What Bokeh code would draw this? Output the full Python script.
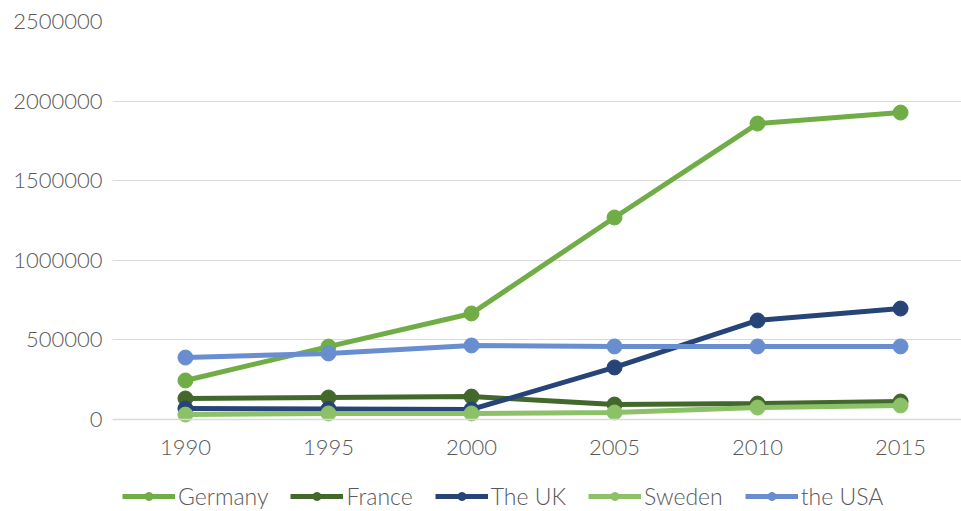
from bokeh.plotting import figure
from bokeh.models import Range1d, FixedTicker, Legend, LegendItem, NumeralTickFormatter
from bokeh.embed import file_html
from bokeh.resources import INLINE

years = [1990, 1995, 2000, 2005, 2010, 2015]
germany = [245000, 458000, 666000, 1269000, 1859000, 1928000]
france = [132000, 138000, 144000, 94000, 100000, 113000]
uk = [69000, 66000, 63000, 327000, 622000, 697000]
sweden = [31000, 38000, 38000, 44000, 75000, 88000]
usa = [389000, 415000, 465000, 459000, 459000, 459000]

series = [
    ("Germany", germany, "#70AD47"),
    ("France", france, "#43682B"),
    ("The UK", uk, "#264478"),
    ("Sweden", sweden, "#8CC168"),
    ("the USA", usa, "#698ED0"),
]
y_ticks = [0, 500000, 1000000, 1500000, 2000000, 2500000]

FONT = "Lato Light"
Y_MAX = 2500000
# extra room below zero (legend + year labels live there), in data units
Y_MIN = -Y_MAX * 92 / 398

p = figure(width=961, height=511, output_backend="svg", toolbar_location=None,
           x_range=Range1d(1987.45, 2017.13), y_range=Range1d(Y_MIN, Y_MAX),
           min_border_top=21, min_border_right=0, min_border_left=112,
           min_border_bottom=0)
p.outline_line_color = None
p.background_fill_color = "white"
p.border_fill_color = "white"

p.xgrid.grid_line_color = None
p.ygrid.grid_line_color = "#D9D9D9"
p.ygrid.grid_line_width = 1

p.xaxis.ticker = FixedTicker(ticks=years)
p.xaxis.fixed_location = 0
p.yaxis.ticker = FixedTicker(ticks=y_ticks)
p.yaxis.formatter = NumeralTickFormatter(format="0")
for ax in (p.xaxis, p.yaxis):
    ax.major_tick_line_color = None
    ax.minor_tick_line_color = None
    ax.major_label_text_font = FONT
    ax.major_label_text_font_size = "22px"
    ax.major_label_text_color = "#595959"
p.yaxis.axis_line_color = None
p.yaxis.major_label_standoff = 4
p.xaxis.axis_line_color = "#D9D9D9"
p.xaxis.axis_line_width = 1.5
p.xaxis.major_label_standoff = 14

items = []
for name, vals, color in series:
    r1 = p.line(years, vals, line_color=color, line_width=5)
    r2 = p.scatter(years, vals, size=15, fill_color=color, line_color=color)
    items.append(LegendItem(label=name, renderers=[r1, r2]))

legend = Legend(items=items, orientation="horizontal", location=(10, 1),
                label_text_font=FONT, label_text_font_size="23px",
                label_text_color="#595959", border_line_color=None,
                background_fill_alpha=0,
                glyph_width=53, glyph_height=20, spacing=22, label_standoff=3,
                padding=0, margin=0)
p.add_layout(legend, "center")

open("out.html", "w").write(file_html(p, INLINE))
